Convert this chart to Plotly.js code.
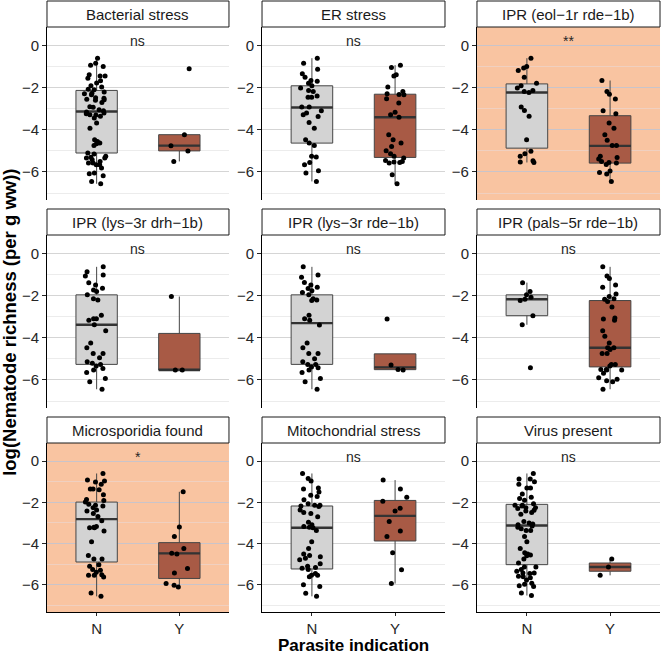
<!DOCTYPE html>
<html>
<head>
<meta charset="utf-8">
<script src="https://cdn.plot.ly/plotly-3.0.1.min.js"></script>
<style>
  html, body { margin: 0; padding: 0; background: #ffffff; }
  #chart { width: 661px; height: 657px; }
</style>
</head>
<body>
<div id="chart"></div>
<script>
// Facet labels, significance of the N vs Y comparison, and groups
const panels = [
  'Bacterial stress', 'ER stress', 'IPR (eol\u22121r rde\u22121b)',
  'IPR (lys\u22123r drh\u22121b)', 'IPR (lys\u22123r rde\u22121b)', 'IPR (pals\u22125r rde\u22121b)',
  'Microsporidia found', 'Mitochondrial stress', 'Virus present'
];
const signif = ['ns', 'ns', '**', 'ns', 'ns', 'ns', '*', 'ns', 'ns'];
const groups = ['N', 'Y'];

// log(Nematode richness) per sample, by parasite indication
const bacterialN = [-0.6, -0.84, -0.93, -1.0, -1.39, -1.44, -1.55, -1.44, -1.78, -1.67, -1.91, -1.97, -2.07, -2.26, -2.34, -2.29, -2.5, -2.48, -2.57, -2.55, -2.6, -2.7, -2.9, -2.93, -3.05, -3.16, -3.29, -3.2, -3.24, -3.44, -3.36, -3.68, -3.92, -4.55, -4.66, -4.74, -4.47, -4.63, -5.1, -5.15, -5.26, -5.34, -5.42, -5.34, -5.58, -5.66, -5.58, -6.08, -6.05, -6.18, -6.45, -6.56, -5.66, -5.81, -2.1, -2.2, -3.1, -5.3, -5.5, -3.3];
const bacterialY = [-1.1, -4.23, -4.75, -5.0, -5.5];
const erN = [-0.6, -0.84, -1.12, -1.34, -1.5, -1.66, -1.79, -1.7, -2.02, -1.91, -2.13, -2.18, -2.45, -2.39, -2.45, -2.92, -2.92, -3.1, -3.29, -3.37, -3.2, -3.65, -3.92, -4.47, -4.63, -4.74, -5.29, -5.26, -5.55, -5.66, -5.94, -6.05, -6.45];
const erY = [-0.93, -1.04, -1.39, -1.44, -1.97, -2.18, -2.29, -2.34, -2.53, -2.32, -2.73, -3.17, -3.29, -3.4, -4.23, -4.47, -4.63, -4.79, -4.99, -5.13, -5.34, -5.26, -5.5, -5.53, -5.45, -5.55, -5.58, -6.13, -6.56];
const eolN = [-0.6, -1.0, -1.07, -1.18, -1.5, -1.79, -1.91, -2.02, -2.13, -2.18, -2.23, -2.92, -3.08, -3.36, -4.47, -5.02, -5.13, -5.47, -5.53, -5.55, -5.26];
const eolY = [-1.66, -2.18, -2.31, -2.54, -3.1, -3.24, -3.68, -3.92, -4.23, -4.5, -4.74, -4.74, -5.26, -5.31, -5.39, -5.58, -5.5, -5.55, -5.64, -5.96, -6.02, -6.1, -6.45];
const lysDrhN = [-0.63, -0.86, -1.07, -1.02, -1.38, -1.49, -1.65, -1.73, -1.8, -1.96, -2.15, -2.2, -2.93, -3.1, -3.17, -3.1, -3.38, -3.66, -4.24, -4.47, -4.74, -4.95, -4.74, -5.21, -5.13, -5.26, -5.34, -5.46, -5.53, -5.65, -5.93, -6.09, -6.44];
const lysDrhY = [-2.04, -5.53, -5.53];
const lysRdeN = [-0.63, -1.02, -1.13, -1.37, -1.49, -1.6, -1.66, -1.76, -1.85, -1.96, -2.15, -2.23, -2.2, -2.93, -3.09, -3.17, -3.39, -4.24, -4.47, -4.99, -4.74, -4.74, -5.13, -5.26, -5.26, -5.38, -5.53, -5.42, -5.65, -5.93, -6.09, -6.44];
const lysRdeY = [-3.11, -5.29, -5.5, -5.53];
const palsN = [-1.38, -1.8, -1.96, -2.07, -2.23, -2.17, -2.95, -3.38, -5.42];
const palsY = [-0.63, -1.07, -1.18, -1.49, -1.6, -1.92, -2.04, -2.15, -2.28, -2.17, -2.54, -3.11, -3.06, -3.17, -3.66, -3.92, -4.24, -4.47, -4.47, -4.55, -4.74, -4.74, -5.53, -5.5, -5.26, -5.26, -5.34, -5.5, -5.53, -5.68, -5.97, -5.89, -6.09, -6.04, -6.44];
const microN = [-0.6, -0.92, -1.12, -1.01, -0.97, -1.35, -1.35, -1.39, -1.63, -1.87, -1.91, -1.98, -2.1, -2.18, -2.14, -2.26, -2.37, -2.42, -2.55, -2.69, -2.9, -3.21, -3.24, -3.18, -3.24, -3.39, -3.92, -4.59, -4.75, -4.75, -5.03, -5.11, -5.27, -5.4, -5.3, -5.55, -5.63, -5.55, -5.52, -6.41, -6.57];
const microY = [-1.49, -3.2, -3.66, -4.24, -4.48, -4.51, -5.22, -5.43, -6.03, -5.95, -6.11];
const mitoN = [-0.6, -0.84, -0.97, -1.35, -1.31, -1.5, -1.66, -1.72, -1.88, -2.14, -2.18, -2.14, -2.07, -2.21, -2.37, -2.55, -2.5, -2.7, -2.97, -3.09, -3.24, -3.21, -3.18, -3.37, -3.92, -4.24, -4.51, -4.59, -4.72, -4.79, -4.98, -5.11, -5.27, -5.2, -5.46, -5.54, -5.62, -5.55, -6.01, -6.09, -6.42, -6.57, -5.17, -4.64];
const mitoY = [-0.92, -1.36, -1.76, -1.95, -2.29, -2.42, -2.93, -3.39, -3.66, -4.45, -5.28, -5.95];
const virusN = [-0.6, -0.87, -0.87, -1.0, -1.31, -1.12, -1.31, -1.6, -1.75, -1.82, -2.07, -2.14, -2.14, -2.26, -2.18, -2.26, -2.39, -2.5, -2.42, -2.58, -2.93, -3.09, -3.05, -3.21, -3.29, -3.37, -3.37, -3.66, -3.92, -4.24, -4.45, -4.51, -4.56, -4.76, -4.95, -5.14, -5.14, -5.27, -5.43, -5.59, -5.46, -5.66, -5.43, -5.78, -5.98, -6.09, -5.93, -6.06, -6.53, -6.41, -5.62, -5.35, -1.9, -2.3, -3.15, -3.0, -4.6];
const virusY = [-4.76, -5.14, -5.55];

const valuesN = [bacterialN, erN, eolN, lysDrhN, lysRdeN, palsN, microN, mitoN, virusN];
const valuesY = [bacterialY, erY, eolY, lysDrhY, lysRdeY, palsY, microY, mitoY, virusY];

// Box summaries: lower hinge, median, upper hinge, whisker ends
const q1N     = [-5.10, -4.63, -4.87, -5.26, -5.26, -2.95, -4.90, -5.24, -5.03];
const medianN = [-3.13, -2.94, -2.23, -3.38, -3.30, -2.17, -2.82, -3.24, -3.13];
const q3N     = [-2.13, -1.91, -1.82, -1.96, -1.96, -1.96, -1.99, -2.18, -2.10];
const lowN    = [-6.56, -6.45, -5.55, -6.44, -6.44, -3.38, -6.57, -6.57, -6.53];
const highN   = [-0.60, -0.60, -0.60, -0.63, -0.63, -1.38, -0.60, -0.60, -0.60];

const q1Y     = [-5.00, -5.31, -5.58, -5.53, -5.51, -5.38, -5.70, -3.88, -5.35];
const medianY = [-4.75, -3.40, -4.76, -5.53, -5.40, -4.47, -4.48, -2.66, -5.14];
const q3Y     = [-4.23, -2.31, -3.33, -3.79, -4.76, -2.23, -3.96, -1.91, -4.95];
const lowY    = [-5.50, -6.56, -6.45, -5.53, -5.53, -6.44, -6.11, -5.95, -5.55];
const highY   = [-4.23, -0.93, -1.66, -2.04, -4.76, -0.63, -1.49, -0.92, -4.76];

// ---- styling ----
const FONT = 'Liberation Sans, Arial, Helvetica, sans-serif';
const fillColors = { N: '#D3D3D3', Y: '#A85A45' };
const shadeColor = '#F9C4A1';
const colDom = [[0.0711, 0.3464], [0.3964, 0.6732], [0.7216, 0.9985]];
const rowDom = [[0.6956, 0.9589], [0.3790, 0.6423], [0.0685, 0.3257]];
const stripH = 26 / 657;
const yRange = [-7.33, 0.88];
const tickColor = '#262626';

const traces = [];
const layout = {
  width: 661, height: 657,
  margin: { l: 0, r: 0, t: 0, b: 0 },
  paper_bgcolor: '#ffffff',
  plot_bgcolor: '#ffffff',
  showlegend: false,
  boxmode: 'overlay',
  font: { family: FONT, color: tickColor },
  shapes: [],
  annotations: []
};

function boxTrace(ax, g, q1, med, q3, lo, hi, fill, lineW, lineC) {
  return {
    type: 'box', xaxis: 'x' + ax, yaxis: 'y' + ax,
    x: [g], q1: [q1], median: [med], q3: [q3], lowerfence: [lo], upperfence: [hi],
    width: 0.5, whiskerwidth: 0, boxpoints: false,
    fillcolor: fill, line: { color: lineC, width: lineW },
    hoverinfo: 'skip'
  };
}

panels.forEach((name, i) => {
  const k = i + 1;
  const ax = k === 1 ? '' : String(k);
  const row = Math.floor(i / 3), col = i % 3;
  const shaded = signif[i] !== 'ns';
  const series = { N: valuesN[i], Y: valuesY[i] };
  const stats = {
    N: [q1N[i], medianN[i], q3N[i], lowN[i], highN[i]],
    Y: [q1Y[i], medianY[i], q3Y[i], lowY[i], highY[i]]
  };

  // boxes
  groups.forEach(g => {
    const s = stats[g];
    traces.push(boxTrace(ax, g, s[0], s[1], s[2], s[3], s[4], fillColors[g], 1, '#454545'));
  });
  // thicker median bars
  groups.forEach(g => {
    const m = stats[g][1];
    traces.push(boxTrace(ax, g, m, m, m, m, m, 'rgba(0,0,0,0)', 2.4, '#333333'));
  });
  // jittered samples
  const xs = [], ys = [];
  groups.forEach(g => series[g].forEach(v => { xs.push(g); ys.push(v); }));
  traces.push({
    type: 'box', xaxis: 'x' + ax, yaxis: 'y' + ax,
    x: xs, y: ys, boxpoints: 'all', jitter: 0.65, pointpos: 0,
    width: 0.5, whiskerwidth: 0,
    fillcolor: 'rgba(0,0,0,0)', line: { color: 'rgba(0,0,0,0)', width: 0 },
    marker: { color: '#000000', size: 5, line: { width: 0 } },
    hoverinfo: 'skip'
  });

  const bottom = row === 2;
  layout['xaxis' + ax] = {
    domain: colDom[col], anchor: 'y' + ax,
    type: 'category', categoryorder: 'array', categoryarray: groups,
    range: [-0.6, 1.6], fixedrange: true,
    showgrid: false, zeroline: false,
    showline: bottom, linecolor: '#000000', linewidth: 1,
    ticks: bottom ? 'outside' : '', ticklen: 3, tickcolor: tickColor,
    showticklabels: bottom,
    tickfont: { family: FONT, size: 15, color: tickColor }
  };
  layout['yaxis' + ax] = {
    domain: rowDom[row], anchor: 'x' + ax,
    range: yRange, fixedrange: true,
    tick0: 0, dtick: 2,
    showgrid: true, gridcolor: shaded ? '#C9C4CA' : '#D5D5D5', gridwidth: 1,
    minor: { tick0: 0, dtick: 1, showgrid: true, gridcolor: shaded ? '#F0D0C0' : '#ECECEC', gridwidth: 1 },
    zeroline: false,
    showline: true, linecolor: '#000000', linewidth: 1,
    ticks: 'outside', ticklen: 4, tickcolor: tickColor,
    tickfont: { family: FONT, size: 15, color: tickColor }
  };

  if (shaded) {
    layout.shapes.push({
      type: 'rect', xref: 'x' + ax + ' domain', yref: 'y' + ax + ' domain',
      x0: 0, x1: 1, y0: 0, y1: 1, layer: 'below',
      fillcolor: shadeColor, line: { width: 0 }
    });
  }
  // facet strip
  layout.shapes.push({
    type: 'rect', xref: 'paper', yref: 'paper',
    x0: colDom[col][0], x1: colDom[col][1],
    y0: rowDom[row][1], y1: rowDom[row][1] + stripH,
    fillcolor: '#ffffff', line: { color: '#1a1a1a', width: 1 }
  });
  layout.annotations.push({
    xref: 'paper', yref: 'paper',
    x: (colDom[col][0] + colDom[col][1]) / 2, y: rowDom[row][1] + stripH / 2,
    xanchor: 'center', yanchor: 'middle', showarrow: false,
    text: name, font: { family: FONT, size: 15, color: '#1a1a1a' }
  });
  // significance label
  layout.annotations.push({
    xref: 'x' + ax, yref: 'y' + ax, x: 0.5, y: 0.2,
    xanchor: 'center', yanchor: 'middle', showarrow: false,
    text: signif[i], font: { family: FONT, size: 14, color: tickColor }
  });
});

// axis titles
layout.annotations.push({
  xref: 'paper', yref: 'paper', x: (colDom[0][0] + colDom[2][1]) / 2, y: 0,
  xanchor: 'center', yanchor: 'bottom', showarrow: false,
  text: '<b>Parasite indication</b>', font: { family: FONT, size: 17, color: '#000000' }
});
layout.annotations.push({
  xref: 'paper', yref: 'paper', x: 0.015, y: 0.51, textangle: -90,
  xanchor: 'center', yanchor: 'middle', showarrow: false,
  text: '<b>log(Nematode richness (per g ww))</b>', font: { family: FONT, size: 18.5, color: '#000000' }
});

Plotly.newPlot('chart', traces, layout, { staticPlot: true, displayModeBar: false });
</script>
</body>
</html>
